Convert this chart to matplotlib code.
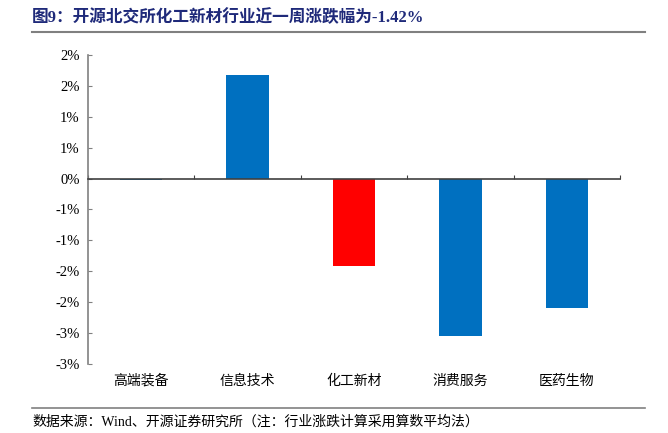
import matplotlib
matplotlib.use('Agg')
import matplotlib.pyplot as plt
import matplotlib.transforms as mtransforms
from matplotlib.lines import Line2D
import numpy as np

plt.rcParams['font.family'] = ['Liberation Serif', 'Noto Sans CJK SC']

# 数据
categories = ['高端装备', '信息技术', '化工新材', '消费服务', '医药生物']
values = [-0.02, 1.68, -1.42, -2.54, -2.09]
colors = ['#0070C0', '#0070C0', '#FF0000', '#0070C0', '#0070C0']
yticks = [2.0, 1.5, 1.0, 0.5, 0.0, -0.5, -1.0, -1.5, -2.0, -2.5, -3.0]

fig = plt.figure(figsize=(6.68, 4.33), dpi=100)
ax = fig.add_axes([88 / 668, 1 - 364 / 433, (620 - 88) / 668, (364 - 55) / 433])

x = np.arange(len(categories))
ax.bar(x, values, width=0.4, color=colors, zorder=2)

ax.set_xlim(-0.5, len(categories) - 0.5)
ax.set_ylim(-3.0, 2.0)
ax.set_yticks(yticks)
# 标签取整显示 (与原图一致: 1.5% -> 2%)
ax.set_yticklabels(['%d%%' % round(v + 1e-9 if v > 0 else v - 1e-9) for v in yticks],
                   fontsize=10.5, family=['Liberation Serif'])
ax.tick_params(axis='y', direction='in', length=3, color='#808080', pad=6)

# x轴放在0的位置, 刻度在类别分界处
ax.spines['top'].set_visible(False)
ax.spines['right'].set_visible(False)
ax.spines['left'].set_color('#808080')
ax.spines['left'].set_linewidth(1.2)
ax.spines['bottom'].set_position(('data', 0))
ax.spines['bottom'].set_color('#404040')
ax.spines['bottom'].set_linewidth(1.2)
ax.spines['bottom'].set_zorder(3)
ax.set_xticks(np.arange(len(categories) + 1) - 0.5)
ax.set_xticklabels([])
ax.tick_params(axis='x', direction='in', length=3, color='#404040')

trans = mtransforms.blended_transform_factory(ax.transData, ax.transAxes)
for i, c in enumerate(categories):
    ax.text(i, -0.055, c, transform=trans, ha='center', va='center', fontsize=10,
            family=['Noto Sans CJK SC'])

# 标题与来源
fig.text(32 / 668, 1 - 18 / 433, '图9：开源北交所化工新材行业近一周涨跌幅为-1.42%',
         fontsize=12, fontweight='bold', color='#1F2A7A', va='center', ha='left',
         family=['Liberation Serif', 'Noto Sans CJK SC'])
fig.add_artist(Line2D([32 / 668, 645 / 668], [1 - 32 / 433, 1 - 32 / 433],
                      color='#808080', linewidth=1.5))
fig.add_artist(Line2D([32 / 668, 645 / 668], [1 - 408 / 433, 1 - 408 / 433],
                      color='#808080', linewidth=1.2))
fig.text(32 / 668, 1 - 422 / 433, '数据来源：Wind、开源证券研究所（注：行业涨跌计算采用算数平均法）',
         fontsize=10, va='center', ha='left', family=['Liberation Serif', 'Noto Sans CJK SC'])

fig.savefig('out.png', dpi=100)
